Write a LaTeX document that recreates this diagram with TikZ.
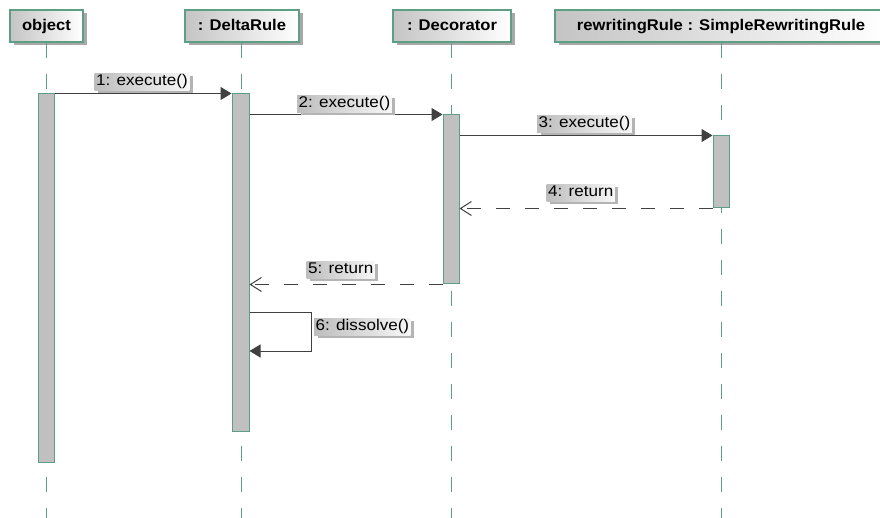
\documentclass[tikz,border=0pt]{standalone}
\usepackage{fontspec}
\setmainfont{Liberation Sans}
\newfontfamily\hdrfont{Liberation Sans}[FakeStretch=1.07]
\newfontfamily\lblfont{Liberation Sans}[FakeStretch=1.1]
\usetikzlibrary{arrows.meta,shadows}
\definecolor{lgreen}{HTML}{5E9E84}
\definecolor{barfill}{HTML}{C0C0C0}
\definecolor{hdrgray}{HTML}{C4C4C4}
\definecolor{shadowgray}{HTML}{A8A8A8}
\definecolor{linegray}{HTML}{404040}
\definecolor{lblgray}{HTML}{BDBDBD}
\definecolor{lblshadow}{HTML}{B4B4B4}
\tikzset{
  header/.style={draw=lgreen, line width=1.2pt, left color=hdrgray, right color=white,
    minimum height=32pt, inner sep=0pt, text height=11.5pt, text depth=3pt,
    font=\hdrfont\bfseries\fontsize{15.5}{18}\selectfont,
    drop shadow={shadow xshift=3.5pt, shadow yshift=-3.5pt, fill=shadowgray, opacity=1}},
  lifeline/.style={draw=lgreen, line width=1pt, dash pattern=on 15pt off 16pt},
  actbar/.style={draw=lgreen, line width=1pt, fill=barfill, minimum width=16pt, inner sep=0pt},
  msg/.style={draw=linegray, line width=1pt, -{Triangle[length=11pt,width=13pt]}, linegray},
  ret/.style={draw=linegray, line width=1pt, dash pattern=on 14pt off 15pt,
    -{Straight Barb[length=11pt,width=14pt]}, linegray},
  msglabel/.style={anchor=north west, left color=lblgray, right color=white!97!black,
    minimum height=17pt, inner xsep=1.5pt, inner ysep=0pt, text height=11.5pt, text depth=3pt,
    font=\lblfont\fontsize{15.5}{18}\selectfont,
    drop shadow={shadow xshift=3.5pt, shadow yshift=-3pt, fill=lblshadow, opacity=1}}
}
\begin{document}
\begin{tikzpicture}[x=1pt,y=-1pt]
\clip (0,0) rectangle (880,518);
\fill[white] (0,0) rectangle (880,518);
% headers
\node[header, minimum width=73pt] (hObj) at (46.5,26) {object};
\node[header, minimum width=114pt] (hDelta) at (242,26) {: DeltaRule};
\node[header, minimum width=118pt] (hDec) at (452,26) {: Decorator};
\node[header, minimum width=332pt] (hRw) at (721,26) {rewritingRule : SimpleRewritingRule};
% lifelines
\coordinate (eObj) at (46,518);
\coordinate (eDelta) at (241,518);
\coordinate (eDec) at (451,518);
\coordinate (eRw) at (721,518);
\draw[lifeline] (eObj |- hObj.south) -- (eObj);
\draw[lifeline] (eDelta |- hDelta.south) -- (eDelta);
\draw[lifeline] (eDec |- hDec.south) -- (eDec);
\draw[lifeline] (eRw |- hRw.south) -- (eRw);
% activation bars
\node[actbar, minimum height=368pt] (bA) at (46,278) {};
\node[actbar, minimum width=17pt, minimum height=337pt] (bB) at (240.5,262.5) {};
\node[actbar, minimum height=169pt] (bC) at (451,199.5) {};
\node[actbar, minimum height=72pt] (bD) at (721,172) {};
% messages
\draw[msg] (bA.north east) -- (bB.north west);
\draw[msg] (bB.east |- bC.north) -- (bC.north west);
\draw[msg] (bC.east |- bD.north) -- (bD.north west);
\draw[ret] (bD.south west) -- (bC.east |- bD.south);
\draw[ret] (bC.south west) -- (bB.east |- bC.south);
\coordinate (s1) at (311,313);
\coordinate (s2) at (311,351);
\draw[msg] (bB.east |- s1) -- (s1) -- (s2) -- (bB.east |- s2);
% labels
\node[msglabel] (l1) at (94.5,73) {1: execute()\hspace{3pt}};
\node[msglabel] (l2) at (297,95) {2: execute()\hspace{4pt}};
\node[msglabel] (l3) at (537,115) {3: execute()\hspace{4pt}};
\node[msglabel] (l4) at (546.5,184) {4: return\hspace{9pt}};
\node[msglabel] (l5) at (306.5,261) {5: return\hspace{4pt}};
\node[msglabel] (l6) at (314,318) {6: dissolve()\hspace{3pt}};
\end{tikzpicture}
\end{document}
